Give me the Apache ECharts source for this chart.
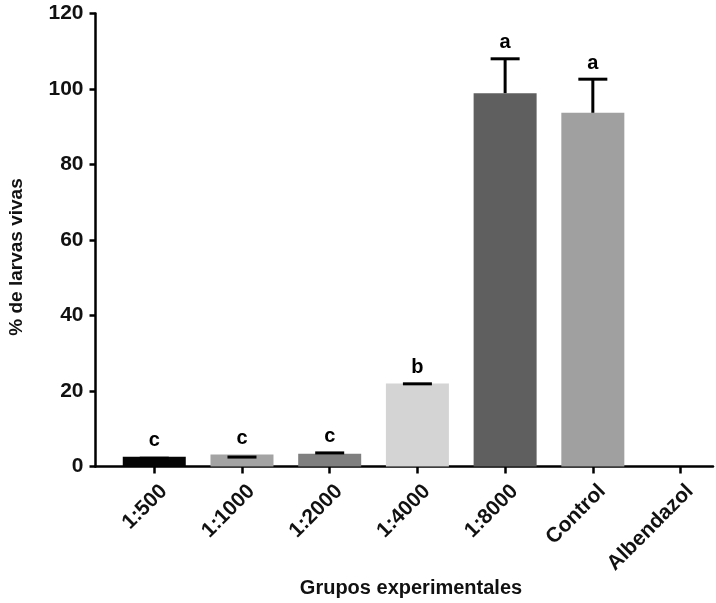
<!DOCTYPE html>
<html>
<head>
<meta charset="utf-8">
<script src="https://cdn.jsdelivr.net/npm/echarts@6/dist/echarts.min.js"></script>
<style>html,body{margin:0;padding:0;background:#fff}#c{width:716px;height:603px}</style>
</head>
<body>
<div id="c"></div>
<script>
const categories = ['1:500', '1:1000', '1:2000', '1:4000', '1:8000', 'Control', 'Albendazol'];
const means = [2.6, 3.2, 3.4, 22.0, 98.9, 93.7, 0];
const errorCaps = [2.2, 2.5, 3.6, 21.9, 108.0, 102.6, null];
const letters = ['c', 'c', 'c', 'b', 'a', 'a', ''];
const yTicks = [0, 20, 40, 60, 80, 100, 120];
const barColors = ['#050505', '#a3a3a3', '#7f7f7f', '#d4d4d4', '#5f5f5f', '#a0a0a0', '#888888'];

const FONT = '"Liberation Sans", Arial, sans-serif';
const chart = echarts.init(document.getElementById('c'));

const barData = categories.map((c, i) => ({ value: [i, means[i]], itemStyle: { color: barColors[i] } }));
const errData = categories.map((c, i) => [i, means[i], errorCaps[i] == null ? NaN : errorCaps[i], i]);

chart.setOption({
  animation: false,
  backgroundColor: '#fff',
  grid: { left: 95.5, right: 3, top: 13.5, bottom: 136.5, containLabel: false },
  xAxis: {
    type: 'value', min: -0.67, max: 6.37,
    splitLine: { show: false },
    axisLine: { show: true, onZero: false, lineStyle: { color: '#000', width: 2.5 } },
    axisTick: { show: true, customValues: categories.map((c, i) => i), length: 7, lineStyle: { color: '#000', width: 2.5 } },
    axisLabel: {
      customValues: categories.map((c, i) => i),
      formatter: v => categories[Math.round(v)] || '',
      rotate: 45, margin: 12, verticalAlign: 'top', padding: [3, 0, 0, 0],
      color: '#111', fontFamily: FONT, fontWeight: 'bold', fontSize: 21
    }
  },
  yAxis: {
    type: 'value', min: 0, max: 120, interval: 20,
    splitLine: { show: false },
    axisLine: { show: true, onZero: false, lineStyle: { color: '#000', width: 2.5 } },
    axisTick: { show: true, length: 6, lineStyle: { color: '#000', width: 2.5 } },
    axisLabel: {
      formatter: v => yTicks.includes(v) ? String(v) : '',
      margin: 12, color: '#111', fontFamily: FONT, fontWeight: 'bold', fontSize: 21
    }
  },
  graphic: [
    { type: 'text', x: 17, y: 257, rotation: Math.PI / 2,
      style: { text: '% de larvas vivas', fill: '#111', font: 'bold 19px ' + FONT, textAlign: 'center', textVerticalAlign: 'middle' } },
    { type: 'text', x: 411, y: 588,
      style: { text: 'Grupos experimentales', fill: '#111', font: 'bold 20px ' + FONT, textAlign: 'center', textVerticalAlign: 'middle' } }
  ],
  series: [
    { type: 'bar', data: barData, barWidth: 63, z: 2 },
    {
      type: 'custom', z: 3, data: errData,
      renderItem: function (params, api) {
        const i = api.value(0), m = api.value(1), cap = api.value(2), idx = api.value(3);
        const children = [];
        const pm = api.coord([i, m]);
        let topY = pm[1];
        if (!isNaN(cap)) {
          const pc = api.coord([i, cap]);
          if (cap > m) {
            children.push({ type: 'line', shape: { x1: pc[0], y1: pm[1], x2: pc[0], y2: pc[1] }, style: { stroke: '#000', lineWidth: 3 } });
          }
          children.push({ type: 'line', shape: { x1: pc[0] - 14.5, y1: pc[1], x2: pc[0] + 14.5, y2: pc[1] }, style: { stroke: '#000', lineWidth: 3 } });
          topY = Math.min(topY, pc[1]);
        }
        const lt = letters[idx];
        if (lt) {
          children.push({ type: 'text', x: pm[0], y: topY - 16,
            style: { text: lt, fill: '#000', font: 'bold 20px ' + FONT, textAlign: 'center', textVerticalAlign: 'middle' } });
        }
        return { type: 'group', children: children };
      }
    }
  ]
});
</script>
</body>
</html>
